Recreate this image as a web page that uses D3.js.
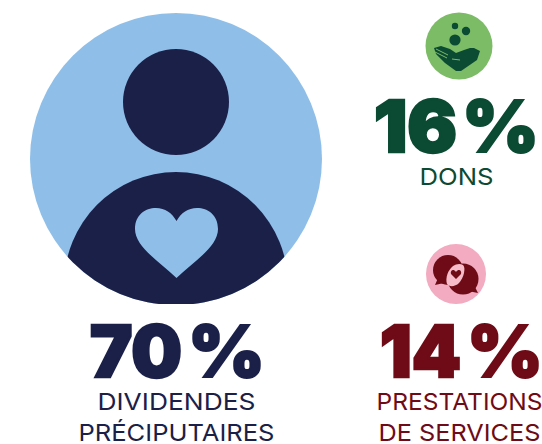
<!DOCTYPE html>
<html><head><meta charset="utf-8">
<script src="https://cdnjs.cloudflare.com/ajax/libs/d3/7.8.5/d3.min.js"></script>
<style>html,body{margin:0;background:#fff}svg{display:block}</style></head>
<body><svg id="c" width="542" height="444"></svg>
<script>
const categories = ["dividendes", "dons", "prestations"];
const values = [70, 16, 14];
const valueSuffix = "%";
const labelLines = [["DIVIDENDES", "PRÉCIPUTAIRES"], ["DONS"], ["PRESTATIONS", "DE SERVICES"]];
const colors = ["#1b2049", "#0b4a33", "#6e0b16"];

const svg = d3.select("#c");
const font = "Inter, 'Noto Sans', sans-serif";
const layout = [
  {d:[92,180], p:[194,261], base:378, labelY:[410,441], widths:[158,196], cx:[176.5,176.5]},
  {d:[376,455], p:[468,535], base:153, labelY:[185],    widths:[74],      cx:[456.5]},
  {d:[382,459], p:[473,539], base:378, labelY:[410,441], widths:[166,162], cx:[459.5,459.5]}
];

// Main figure
const defs = svg.append("defs");
defs.append("clipPath").attr("id","big").append("circle").attr("cx",176).attr("cy",159).attr("r",146);
defs.append("clipPath").attr("id","bottom").append("rect").attr("x",0).attr("y",0).attr("width",542).attr("height",304);
const g = svg.append("g").attr("clip-path","url(#bottom)");
g.append("circle").attr("cx",176).attr("cy",159).attr("r",146).attr("fill","#8fbfe8");
const inner = g.append("g").attr("clip-path","url(#big)");
inner.append("circle").attr("cx",176).attr("cy",102).attr("r",53).attr("fill",colors[0]);
inner.append("ellipse").attr("cx",176).attr("cy",285).attr("rx",112).attr("ry",113).attr("fill",colors[0]);
g.append("path").attr("fill","#8fbfe8")
 .attr("d","M176.5 278 C160 262 135 247 135 229 C135 215 145 208 156 208 C165 208 172 213 176.5 221 C181 213 188 208 197 208 C208 208 218 215 218 229 C218 247 193 262 176.5 278Z");

// Green icon
const ig = svg.append("g");
ig.append("circle").attr("cx",459).attr("cy",46).attr("r",33.5).attr("fill","#7cbc66");
[[455,26,3.2],[466,31,4.2],[455,40,5.6]].forEach(d=>ig.append("circle").attr("cx",d[0]).attr("cy",d[1]).attr("r",d[2]).attr("fill",colors[1]));
ig.append("path").attr("fill",colors[1]).attr("d","M434 48 L441 46 L450 49 L456 53 L464 50 L470 48 L474 48 L480 51 L477 60 L461 71 L456 71 L445 63 L436 54Z");
ig.append("path").attr("stroke","#7cbc66").attr("stroke-width",1).attr("fill","none").attr("d","M436 49 L448 55 M435 52 L447 58 M452 59 L460 60");

// Pink icon
const ip = svg.append("g");
ip.append("circle").attr("cx",456).attr("cy",274).attr("r",30).attr("fill","#f2abc0");
ip.append("circle").attr("cx",448).attr("cy",270).attr("r",15).attr("fill",colors[2]);
ip.append("circle").attr("cx",463).attr("cy",279).attr("r",15.5).attr("fill",colors[2]);
ip.append("path").attr("fill",colors[2]).attr("d","M438 278 L435 285 L444 283Z M474 285 L478 293 L468 291Z");
ip.append("path").attr("fill","#f6bcca").attr("d","M463 265 C466 267 464 278 459 283 C455 287 449 287 447 284 C445 278 448 270 453 266 C456 264 460 263 463 265Z");
ip.append("path").attr("fill",colors[2]).attr("d","M456 272 C453 268 450 271 451 274 L456 279 L461 274 C462 271 459 268 456 272Z");

// Numbers and labels
values.forEach((v,i)=>{
  const L = layout[i];
  svg.append("text").attr("x",L.d[0]-2).attr("y",L.base-1)
    .attr("font-family",font).attr("font-weight",900).attr("font-size",71)
    .attr("fill",colors[i]).attr("stroke",colors[i]).attr("stroke-width",2.5)
    .attr("textLength",L.d[1]-L.d[0]+4).attr("lengthAdjust","spacingAndGlyphs")
    .text(v);
  svg.append("text").attr("x",L.p[0]-6).attr("y",L.base-1)
    .attr("font-family",font).attr("font-weight",900).attr("font-size",71)
    .attr("fill",colors[i]).attr("stroke",colors[i]).attr("stroke-width",2)
    .attr("textLength",L.p[1]-L.p[0]+10).attr("lengthAdjust","spacingAndGlyphs")
    .text(valueSuffix);
  labelLines[i].forEach((t,j)=>{
    svg.append("text").attr("x",L.cx[j]).attr("y",L.labelY[j])
      .attr("text-anchor","middle").attr("font-family",font).attr("font-weight",400)
      .attr("font-size",23.5).attr("fill",colors[i])
      .attr("textLength",L.widths[j]).attr("lengthAdjust","spacingAndGlyphs")
      .text(t);
  });
});
</script></body></html>
